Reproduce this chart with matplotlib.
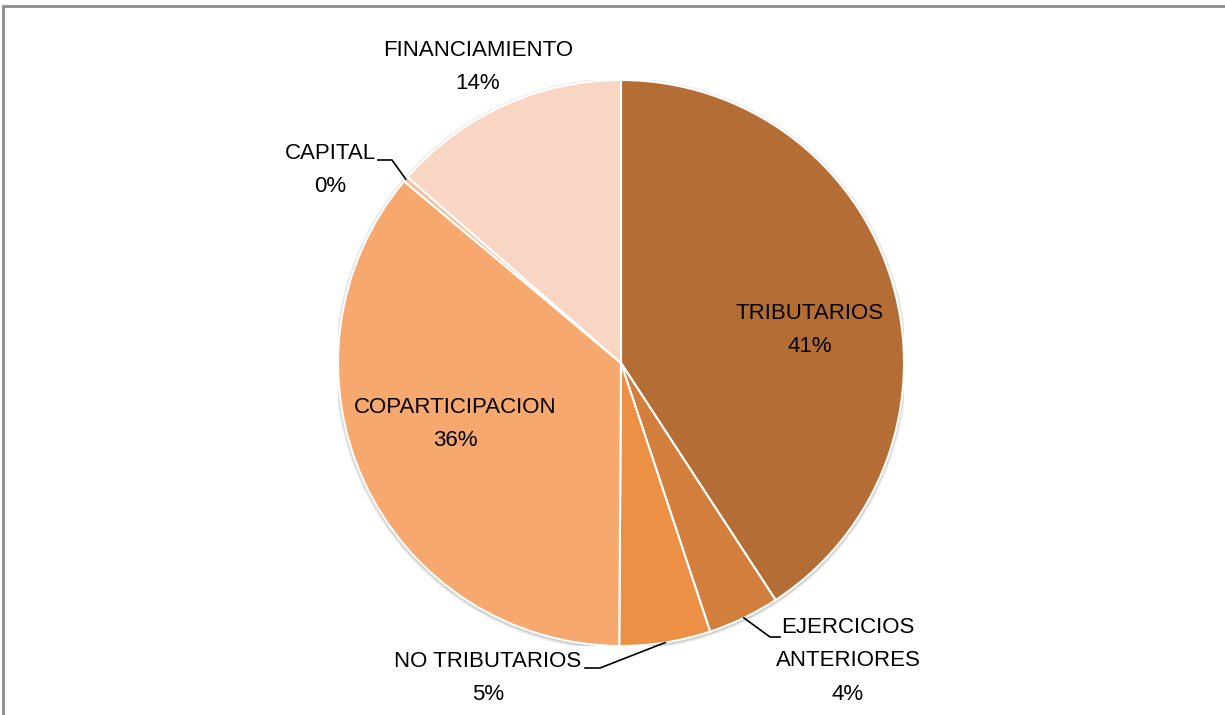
import numpy as np
import matplotlib.pyplot as plt
from matplotlib.patches import Rectangle, Circle

labels = ['TRIBUTARIOS', 'EJERCICIOS\nANTERIORES', 'NO TRIBUTARIOS',
          'COPARTICIPACION', 'CAPITAL', 'FINANCIAMIENTO']
values = [40.8, 4.1, 5.2, 36.0, 0.3, 13.6]
pct_text = ['41%', '4%', '5%', '36%', '0%', '14%']
colors = ['#B46D34', '#D27F3D', '#EC9045', '#F6A86E', '#F7BE98', '#F9D5C3']

plt.rcParams['font.family'] = ['Liberation Sans Narrow', 'Liberation Sans', 'DejaVu Sans']

fig = plt.figure(figsize=(12.25, 7.15), dpi=100)
W, H = 1225, 715
cx, cy, r = 621, 363, 283

# outer frame of the chart area
fig.patches.append(Rectangle((3 / W, -0.1), 1.2, (H - 6) / H + 0.1, transform=fig.transFigure,
                             fill=False, edgecolor='#8c8c8c', linewidth=2))

ax = fig.add_axes([(cx - r) / W, (H - cy - r) / H, 2 * r / W, 2 * r / H])

# soft shadow behind the pie
for i, a in enumerate([0.05, 0.07, 0.1]):
    ax.add_patch(Circle((0.0, -0.004), 1.012 - i * 0.004, color='#000000', alpha=a, lw=0, zorder=0))

wedges, _ = ax.pie(values, colors=colors, startangle=90, counterclock=False, radius=1,
                   wedgeprops=dict(edgecolor='white', linewidth=1.5))
for w in wedges:
    w.set_zorder(2)

ax.set_xlim(-1, 1)
ax.set_ylim(-1, 1)
ax.set_aspect('equal')
ax.axis('off')


def to_data(px, py):
    return (px - cx) / r, (cy - py) / r


def edge_point(w):
    ang = np.deg2rad((w.theta1 + w.theta2) / 2)
    return np.cos(ang), np.sin(ang)


# label positions (pixel centres of text blocks)
label_pos = {
    0: (810, 330),
    1: (848, 661),
    2: (488, 678),
    3: (455, 424),
    4: (330, 170),
    5: (478, 67),
}
for i, (px, py) in label_pos.items():
    x, y = to_data(px, py)
    ax.text(x, y, labels[i] + '\n' + pct_text[i], ha='center', va='center', fontsize=16,
            linespacing=1.8, color='#000000', clip_on=False, zorder=5)

# leader lines
leaders = {
    1: [(780, 637), (770, 637)],
    2: [(585, 668), (600, 668)],
    4: [(378, 160), (392, 160)],
}
for i, pts in leaders.items():
    ex, ey = edge_point(wedges[i])
    (x0, y0), (x1, y1) = [to_data(*p) for p in pts]
    ax.plot([x0, x1, ex], [y0, y1, ey], color='black', lw=1.2, clip_on=False, zorder=4)

fig.savefig('out.png', dpi=100)
